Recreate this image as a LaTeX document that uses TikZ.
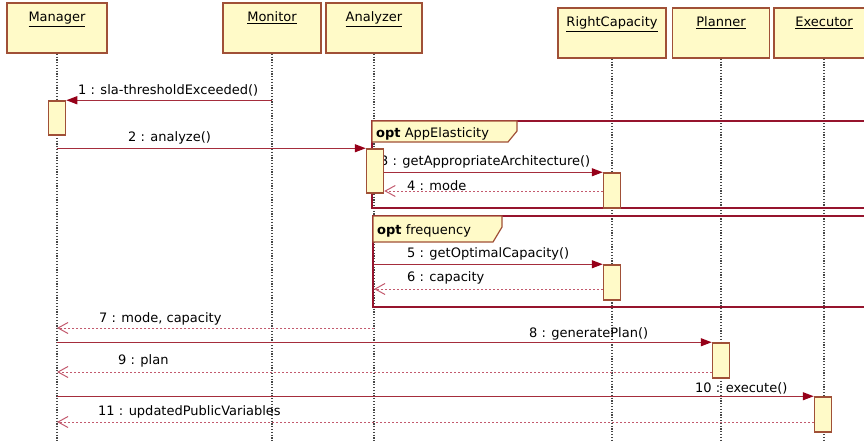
\documentclass[tikz,border=0pt]{standalone}
\usepackage{fontspec}
\setmainfont{DejaVu Sans}
\usetikzlibrary{arrows.meta}
\definecolor{boxfill}{RGB}{255,250,200}
\definecolor{boxline}{RGB}{160,80,55}
\definecolor{msgred}{RGB}{165,45,60}
\definecolor{tipred}{RGB}{150,0,25}
\definecolor{retred}{RGB}{195,90,110}
\definecolor{framered}{RGB}{150,20,45}
\definecolor{lifegray}{RGB}{70,70,70}
\begin{document}
\begin{tikzpicture}[x=1pt, y=-1pt, font=\fontsize{13}{15}\selectfont,
  hdr/.style={draw=boxline, fill=boxfill, line width=1.7pt, inner sep=0pt, minimum height=50pt, text height=19pt, text depth=31pt},
  act/.style={draw=boxline, fill=boxfill, line width=1.5pt, minimum width=17pt, minimum height=35pt, inner sep=0pt},
  life/.style={draw=lifegray, line width=1.4pt, dash pattern=on 1.2pt off 1.6pt},
  msg/.style={draw=msgred, line width=1.2pt, -{Triangle[length=11pt,width=8pt,color=tipred]}},
  ret/.style={draw=retred, line width=1pt, dash pattern=on 2pt off 2pt, -{Straight Barb[length=10pt,width=11pt]}},
  lbl/.style={anchor=west, inner sep=0pt},
  frame/.style={draw=framered, line width=1.5pt},
  tab/.style={draw=boxline, fill=boxfill, line width=1.2pt}]
\useasboundingbox (0,0) rectangle (864,441);
\fill[white] (0,0) rectangle (864,441);
\clip (0,0) rectangle (864,441);

% lifeline heads
\node[hdr, minimum width=100] (mgr) at (57,28) {\underline{Manager}};
\node[hdr, minimum width=98] (mon) at (272,28) {\underline{Monitor}};
\node[hdr, minimum width=96] (ana) at (374,28) {\underline{Analyzer}};
\node[hdr, minimum width=108] (rc) at (612,33) {\underline{RightCapacity}};
\node[hdr, minimum width=97] (pln) at (721,33) {\underline{Planner}};
\node[hdr, minimum width=100] (exe) at (824,33) {\underline{Executor}};

\coordinate (bot) at (0,441);
\foreach \h in {mgr,mon,ana,rc,pln,exe}
  \draw[life] (\h.south) -- (\h.south |- bot);

% combined fragments
\draw[frame] (372,121) rectangle (880,208);
\draw[tab] (372,121) -- (517,121) -- (517,131) -- (508,142) -- (372,142) -- cycle;
\node[lbl] (opt1) at (376,134) {\textbf{opt} AppElasticity};
\draw[frame] (373,216) rectangle (880,307);
\draw[tab] (373,216) -- (502,216) -- (502,227) -- (493,242) -- (373,242) -- cycle;
\node[lbl] (opt2) at (377,231) {\textbf{opt} frequency};

% message labels
\node[lbl] (l1) at (78,90) {1 : sla-thresholdExceeded()};
\node[lbl] (l2) at (128,138) {2 : analyze()};
\node[lbl] (l3) at (380,162) {3 : getAppropriateArchitecture()};
\node[lbl] (l4) at (407,186) {4 : mode};
\node[lbl] (l5) at (407,254) {5 : getOptimalCapacity()};
\node[lbl] (l6) at (407,278) {6 : capacity};
\node[lbl] (l7) at (99,319) {7 : mode, capacity};
\node[lbl] (l8) at (529,334) {8 : generatePlan()};
\node[lbl] (l9) at (118,361) {9 : plan};
\node[lbl] (l10) at (695,388) {10 : execute()};
\node[lbl] (l11) at (98,412) {11 : updatedPublicVariables};

% activations
\node[act, minimum height=34] (act1) at (57,118) {};
\node[act, minimum height=44] (act2) at (375,171) {};
\node[act] (act3) at (612,190.5) {};
\node[act] (act5) at (612,282.5) {};
\node[act] (act8) at (721,360.5) {};
\node[act] (act10) at (823,414.5) {};

% messages
\coordinate (y4) at (0,191);
\coordinate (y6) at (0,289);
\coordinate (y7) at (0,328);
\coordinate (y9) at (0,372);
\coordinate (y11) at (0,422);
\draw[msg] (mon.south |- act1.north east) -- (act1.north east);
\draw[msg] (mgr.south |- act2.north west) -- (act2.north west);
\draw[msg] (act2.east |- act3.north west) -- (act3.north west);
\draw[ret] (act3.west |- y4) -- (act2.east |- y4);
\draw[msg] (ana.south |- act5.north west) -- (act5.north west);
\draw[ret] (act5.west |- y6) -- (ana.south |- y6);
\draw[ret] (ana.south |- y7) -- (mgr.south |- y7);
\draw[msg] (mgr.south |- act8.north west) -- (act8.north west);
\draw[ret] (act8.west |- y9) -- (mgr.south |- y9);
\draw[msg] (mgr.south |- act10.north west) -- (act10.north west);
\draw[ret] (act10.west |- y11) -- (mgr.south |- y11);
\end{tikzpicture}
\end{document}
